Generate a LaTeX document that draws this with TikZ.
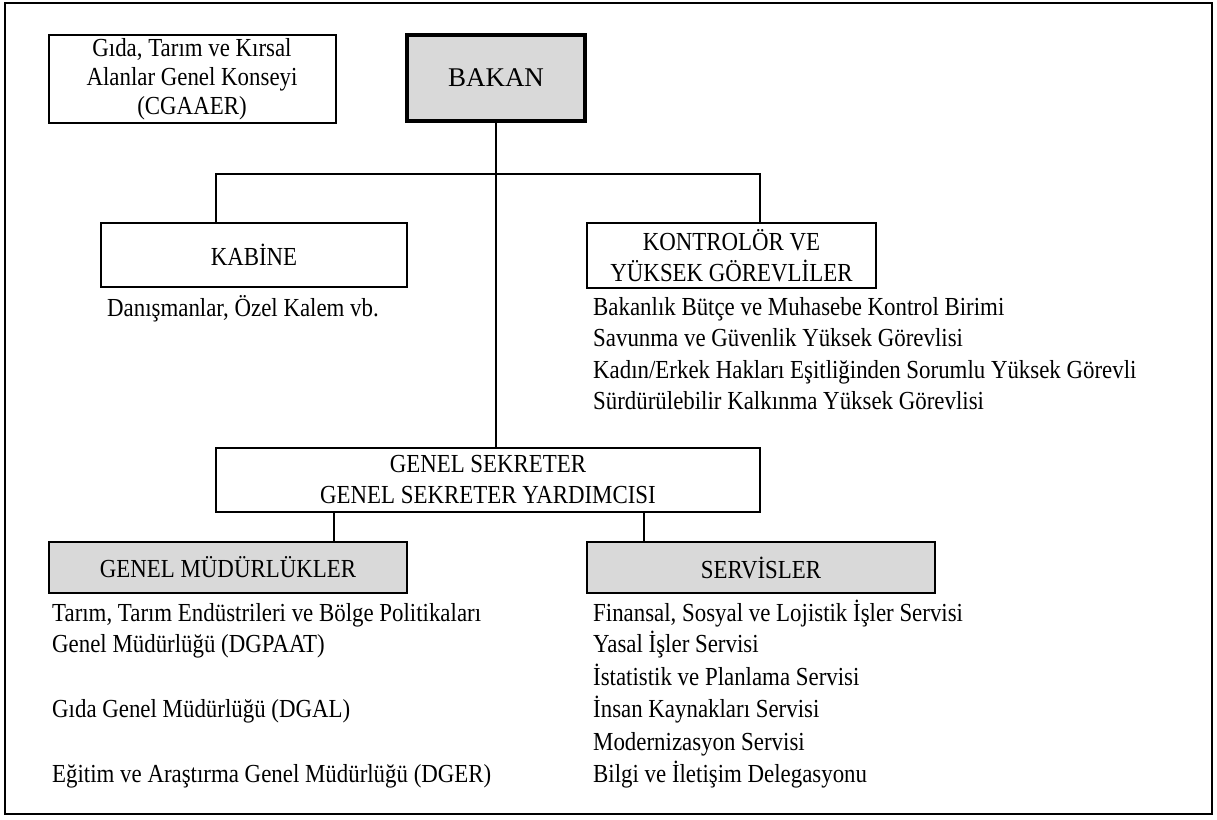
\documentclass[tikz,border=0pt]{standalone}
\usepackage{fontspec}
\setmainfont{Liberation Serif}
\newfontfamily\condfont[FakeStretch=0.88]{Liberation Serif}
\definecolor{boxgray}{HTML}{D9D9D9}
\tikzset{
  txt/.style={font=\condfont\fontsize{26}{31}\selectfont, inner sep=0pt},
  box/.style={draw, line width=2pt, txt, align=center, outer sep=0pt},
  graybox/.style={box, fill=boxgray},
  item/.style={txt, anchor=base west},
  conn/.style={line width=1.3pt}
}
\begin{document}
\begin{tikzpicture}[x=1pt,y=-1pt]
\useasboundingbox (0,0) rectangle (1217,819);
\draw[line width=1.5pt] (5,3) rectangle (1212,814);

% top row
\node[box, minimum width=287, minimum height=88, font=\condfont\fontsize{26}{29}\selectfont] (cga) at (192,79) {Gıda, Tarım ve Kırsal\\Alanlar Genel Konseyi\\(CGAAER)};
\node[box, fill=boxgray, line width=4pt, minimum width=178, minimum height=86, font=\fontsize{27}{31}\selectfont] (bakan) at (496,78) {BAKAN};

% second row
\node[box, minimum width=306, minimum height=64] (kab) at (254,255) {KABİNE};
\node[box, minimum width=289, minimum height=65] (kon) at (731.5,255.5) {KONTROLÖR VE\\YÜKSEK GÖREVLİLER};

\node[txt, anchor=base] (kabtxt) at (243,316) {Danışmanlar, Özel Kalem vb.};
\node[item] (k1) at (593,315) {Bakanlık Bütçe ve Muhasebe Kontrol Birimi};
\node[item] (k2) at (593,346) {Savunma ve Güvenlik Yüksek Görevlisi};
\node[item] (k3) at (593,378) {Kadın/Erkek Hakları Eşitliğinden Sorumlu Yüksek Görevli};
\node[item] (k4) at (593,409) {Sürdürülebilir Kalkınma Yüksek Görevlisi};

% secretary
\node[box, minimum width=544, minimum height=64] (gs) at (488,480) {GENEL SEKRETER\\GENEL SEKRETER YARDIMCISI};

% bottom row
\node[graybox, minimum width=358, minimum height=51] (gm) at (228,567.5) {GENEL MÜDÜRLÜKLER};
\node[graybox, minimum width=348, minimum height=51] (srv) at (761,567.5) {SERVİSLER};

\node[item] (g1) at (52,621) {Tarım, Tarım Endüstrileri ve Bölge Politikaları};
\node[item] (g2) at (52,652) {Genel Müdürlüğü (DGPAAT)};
\node[item] (g3) at (52,717) {Gıda Genel Müdürlüğü (DGAL)};
\node[item] (g4) at (52,782) {Eğitim ve Araştırma Genel Müdürlüğü (DGER)};

\node[item] (s1) at (593,621) {Finansal, Sosyal ve Lojistik İşler Servisi};
\node[item] (s2) at (593,652) {Yasal İşler Servisi};
\node[item] (s3) at (593,685) {İstatistik ve Planlama Servisi};
\node[item] (s4) at (593,717) {İnsan Kaynakları Servisi};
\node[item] (s5) at (593,750) {Modernizasyon Servisi};
\node[item] (s6) at (593,782) {Bilgi ve İletişim Delegasyonu};

% connectors
\coordinate (barL) at (216,174);
\coordinate (barR) at (760,174);
\coordinate (gsL) at (334,512);
\coordinate (gsR) at (644,512);
\draw[conn] (bakan.south) -- (bakan.south |- gs.north);
\draw[conn] (barL |- kab.north) -- (barL) -- (barR) -- (barR |- kon.north);
\draw[conn] (gsL |- gs.south) -- (gsL |- gm.north);
\draw[conn] (gsR |- gs.south) -- (gsR |- srv.north);
\end{tikzpicture}
\end{document}
